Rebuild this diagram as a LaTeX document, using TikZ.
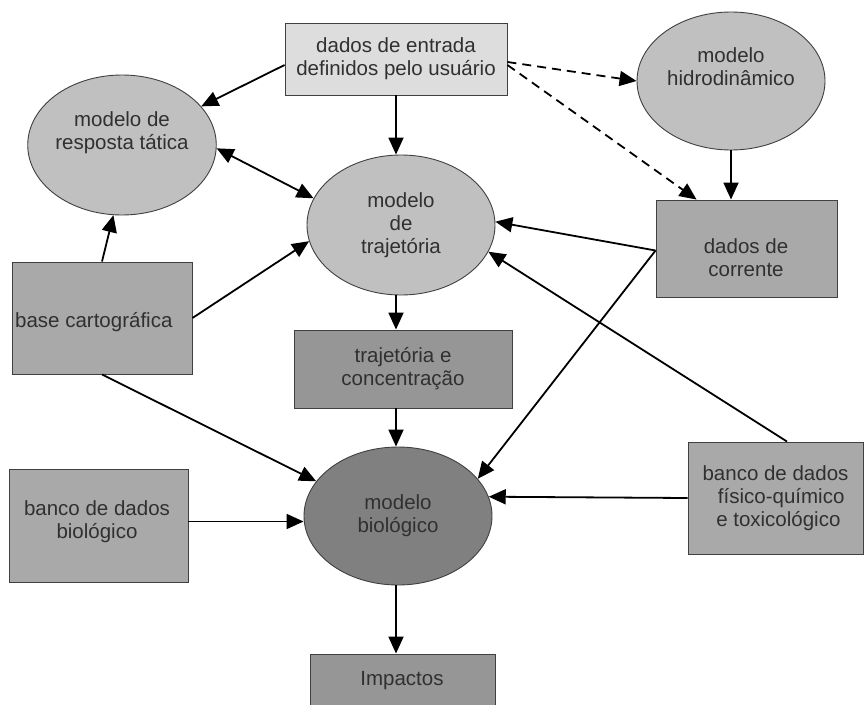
\documentclass[tikz,border=0pt]{standalone}
\usepackage{fontspec}
\setmainfont{Liberation Sans}
\usetikzlibrary{shapes.geometric,arrows.meta}
\definecolor{txt}{HTML}{303030}
\definecolor{lightfill}{HTML}{DDDDDD}
\definecolor{ellfill}{HTML}{C0C0C0}
\definecolor{boxfill}{HTML}{A9A9A9}
\definecolor{darkbox}{HTML}{969696}
\definecolor{bioell}{HTML}{808080}
\definecolor{edge}{HTML}{404040}
\tikzset{
  lbl/.style={font=\fontsize{20.5}{23}\selectfont, text=txt, align=center, inner sep=0pt},
  boxnode/.style={lbl, draw=edge, line width=0.9pt, rectangle},
  ellnode/.style={lbl, draw=edge, line width=0.9pt, ellipse, minimum width=188pt, minimum height=140pt, fill=ellfill},
  arr/.style={line width=1.8pt, -{Triangle[length=17pt,width=15pt]}},
  darr/.style={arr, dash pattern=on 9pt off 6pt},
  biarr/.style={line width=1.8pt, {Triangle[length=17pt,width=15pt]}-{Triangle[length=17pt,width=15pt]}}
}
\begin{document}
\begin{tikzpicture}[x=1pt,y=-1pt]
\clip (0,0) rectangle (864,704);
\fill[white] (0,0) rectangle (864,704);
% nodes
\node[boxnode, fill=lightfill, minimum width=222pt, minimum height=72pt] (top) at (396,59) {dados de entrada\\definidos pelo usuário};
\node[ellnode] (resp) at (122,145) {modelo de\\resposta tática\\[6pt]};
\node[ellnode] (traj) at (401,225) {modelo\\de\\trajetória};
\node[ellnode, minimum height=138pt] (hidro) at (731,81) {modelo\\hidrodinâmico\\[6pt]};
\node[boxnode, fill=boxfill, minimum width=181pt, minimum height=97pt] (corrente) at (746.5,248.5) {};
\node[lbl] (correntet) at (746,258) {dados de\\corrente};
\node[boxnode, fill=boxfill, minimum width=180pt, minimum height=112pt] (base) at (102,318) {};
\node[lbl, anchor=west] (baset) at (15,322) {base cartográfica};
\node[boxnode, fill=darkbox, minimum width=218pt, minimum height=78pt] (trajbox) at (403,369) {trajetória e\\concentração};
\node[ellnode, fill=bioell, minimum height=138pt] (bio) at (398,516) {modelo\\biológico};
\node[boxnode, fill=boxfill, minimum width=179pt, minimum height=113pt] (biobox) at (98.5,525.5) {};
\node[lbl] (bioboxt) at (97,522) {banco de dados\\biológico};
\node[boxnode, fill=boxfill, minimum width=175pt, minimum height=112pt] (fisico) at (775.5,498) {banco de dados\\\ \ físico-químico\\\ e toxicológico};
\node[boxnode, fill=darkbox, minimum width=185pt, minimum height=66pt] (imp) at (402.5,687) {};
\node[lbl] (impt) at (402,681) {Impactos};
% connectors
\draw[arr] ([yshift=-6pt]top.west) -- (resp.26);
\draw[arr] (top.south) -- (top.south |- traj.north);
\draw[darr] ([yshift=-3pt]top.east) -- (hidro.west);
\draw[darr] ([yshift=-6pt]top.east) -- ([xshift=41pt]corrente.north west);
\draw[arr] (hidro.south) -- (hidro.south |- corrente.north);
\draw[biarr] (resp.-2) -- (traj.163);
\draw[arr] (base.north) -- (resp.-97);
\draw[arr] (base.east) -- (traj.190);
\draw[arr] (traj.south -| top.south) -- (trajbox.north -| top.south);
\draw[arr] ([yshift=-2pt]corrente.west) -- (traj.2);
\draw[arr] ([yshift=-2pt]corrente.west) -- (bio.25);
\draw[arr] ([xshift=11.5pt]fisico.north) -- (traj.-17);
\draw[arr] (base.south) -- (bio.157);
\draw[arr] (trajbox.south -| top.south) -- (bio.north -| top.south);
\draw[arr] ([yshift=4pt]biobox.east) -- ([yshift=4pt]biobox.east -| bio.west);
\draw[arr] (fisico.west) -- (bio.12);
\draw[arr] (bio.south -| top.south) -- (imp.north -| top.south);
\end{tikzpicture}
\end{document}
